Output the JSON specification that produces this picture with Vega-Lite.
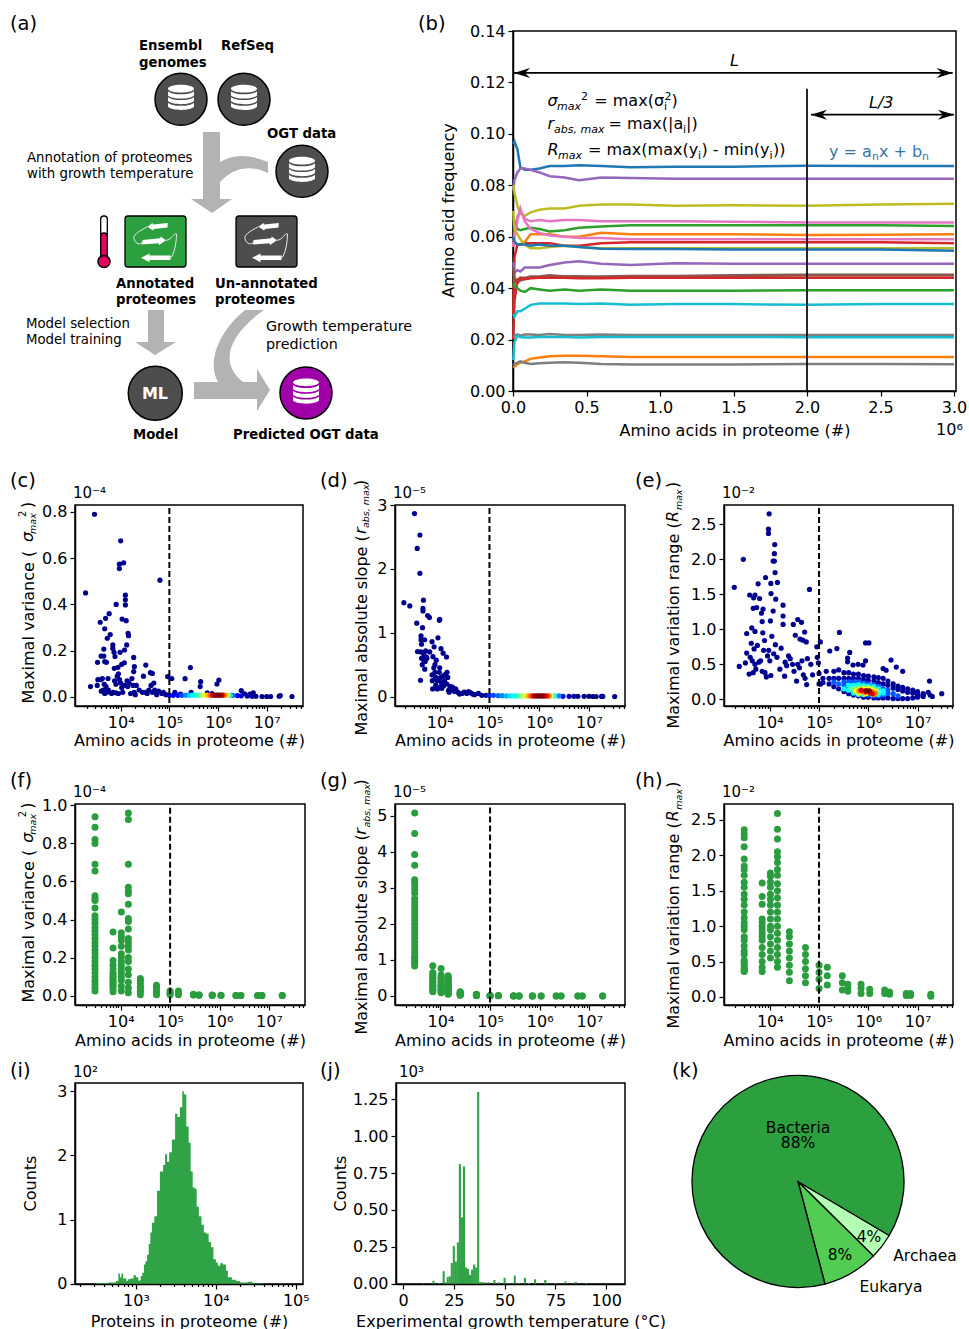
{"$schema":"https://vega.github.io/schema/vega-lite/v6.json","padding":0,"background":"white","config":{"font":"DejaVu Sans","axis":{"grid":false,"domainColor":"black","domainWidth":1.5,"tickColor":"black","tickWidth":1.2,"tickSize":5,"labelColor":"black","titleColor":"black","labelFontSize":16,"titleFontSize":16,"titleFontWeight":"normal","labelPadding":3,"labelOverlap":false,"labelFlush":false},"view":{"stroke":"black","strokeWidth":1.5},"legend":{"disable":true}},"datasets":{"bins":[{"x":3020,"v":0.94,"s":5.07,"r":2.36},{"x":3020,"v":0.885,"s":4.5,"r":2.3},{"x":3020,"v":0.82,"s":3.92,"r":2.25},{"x":3020,"v":0.8,"s":3.62,"r":2.12},{"x":3020,"v":0.69,"s":3.22,"r":1.95},{"x":3020,"v":0.655,"s":3.15,"r":1.85},{"x":3020,"v":0.525,"s":3.05,"r":1.8},{"x":3020,"v":0.51,"s":2.95,"r":1.72},{"x":3020,"v":0.5,"s":2.85,"r":1.62},{"x":3020,"v":0.46,"s":2.7,"r":1.55},{"x":3020,"v":0.42,"s":2.6,"r":1.45},{"x":3020,"v":0.4,"s":2.5,"r":1.38},{"x":3020,"v":0.38,"s":2.4,"r":1.3},{"x":3020,"v":0.36,"s":2.3,"r":1.2},{"x":3020,"v":0.34,"s":2.2,"r":1.12},{"x":3020,"v":0.32,"s":2.1,"r":1.05},{"x":3020,"v":0.3,"s":2,"r":1},{"x":3020,"v":0.28,"s":1.9,"r":0.95},{"x":3020,"v":0.26,"s":1.8,"r":0.85},{"x":3020,"v":0.24,"s":1.7,"r":0.8},{"x":3020,"v":0.22,"s":1.6,"r":0.72},{"x":3020,"v":0.2,"s":1.5,"r":0.65},{"x":3020,"v":0.18,"s":1.4,"r":0.6},{"x":3020,"v":0.16,"s":1.3,"r":0.52},{"x":3020,"v":0.14,"s":1.2,"r":0.5},{"x":3020,"v":0.12,"s":1.1,"r":0.47},{"x":3020,"v":0.1,"s":1.05,"r":0.44},{"x":3020,"v":0.08,"s":1,"r":0.41},{"x":3020,"v":0.06,"s":0.95,"r":0.38},{"x":3020,"v":0.04,"s":0.9,"r":0.37},{"x":3020,"v":0.025,"s":0.83,"r":0.36},{"x":7000,"v":0.335,"s":0.84,"r":1.61},{"x":7000,"v":0.25,"s":0.65,"r":1.42},{"x":7000,"v":0.185,"s":0.6,"r":1.31},{"x":7000,"v":0.16,"s":0.55,"r":1.1},{"x":7000,"v":0.14,"s":0.5,"r":1.05},{"x":7000,"v":0.12,"s":0.47,"r":1},{"x":7000,"v":0.11,"s":0.42,"r":0.95},{"x":7000,"v":0.1,"s":0.38,"r":0.9},{"x":7000,"v":0.09,"s":0.33,"r":0.85},{"x":7000,"v":0.08,"s":0.3,"r":0.8},{"x":7000,"v":0.07,"s":0.26,"r":0.7},{"x":7000,"v":0.06,"s":0.22,"r":0.6},{"x":7000,"v":0.05,"s":0.18,"r":0.5},{"x":7000,"v":0.035,"s":0.15,"r":0.42},{"x":7000,"v":0.02,"s":0.12,"r":0.36},{"x":10300,"v":0.44,"s":0.76,"r":1.75},{"x":10300,"v":0.33,"s":0.58,"r":1.7},{"x":10300,"v":0.31,"s":0.52,"r":1.62},{"x":10300,"v":0.29,"s":0.48,"r":1.55},{"x":10300,"v":0.26,"s":0.42,"r":1.45},{"x":10300,"v":0.22,"s":0.38,"r":1.38},{"x":10300,"v":0.2,"s":0.34,"r":1.3},{"x":10300,"v":0.18,"s":0.3,"r":1.2},{"x":10300,"v":0.16,"s":0.26,"r":1.1},{"x":10300,"v":0.14,"s":0.24,"r":1},{"x":10300,"v":0.12,"s":0.2,"r":0.95},{"x":10300,"v":0.1,"s":0.16,"r":0.85},{"x":10300,"v":0.08,"s":0.14,"r":0.75},{"x":10300,"v":0.05,"s":0.12,"r":0.65},{"x":10300,"v":0.025,"s":0.09,"r":0.55},{"x":14300,"v":0.96,"s":0.56,"r":2.59},{"x":14300,"v":0.925,"s":0.52,"r":2.37},{"x":14300,"v":0.69,"s":0.48,"r":2.23},{"x":14300,"v":0.57,"s":0.45,"r":2.05},{"x":14300,"v":0.55,"s":0.42,"r":1.98},{"x":14300,"v":0.535,"s":0.4,"r":1.9},{"x":14300,"v":0.48,"s":0.36,"r":1.8},{"x":14300,"v":0.405,"s":0.33,"r":1.72},{"x":14300,"v":0.39,"s":0.3,"r":1.6},{"x":14300,"v":0.35,"s":0.28,"r":1.5},{"x":14300,"v":0.3,"s":0.25,"r":1.4},{"x":14300,"v":0.28,"s":0.22,"r":1.3},{"x":14300,"v":0.26,"s":0.2,"r":1.2},{"x":14300,"v":0.24,"s":0.17,"r":1.1},{"x":14300,"v":0.2,"s":0.15,"r":1},{"x":14300,"v":0.18,"s":0.12,"r":0.9},{"x":14300,"v":0.14,"s":0.1,"r":0.8},{"x":14300,"v":0.11,"s":0.08,"r":0.7},{"x":14300,"v":0.07,"s":0.07,"r":0.6},{"x":14300,"v":0.04,"s":0.06,"r":0.5},{"x":14300,"v":0.015,"s":0.05,"r":0.42},{"x":25000,"v":0.09,"s":0.12,"r":0.92},{"x":25000,"v":0.08,"s":0.1,"r":0.85},{"x":25000,"v":0.065,"s":0.08,"r":0.75},{"x":25000,"v":0.05,"s":0.07,"r":0.65},{"x":25000,"v":0.04,"s":0.05,"r":0.55},{"x":25000,"v":0.03,"s":0.04,"r":0.45},{"x":25000,"v":0.02,"s":0.03,"r":0.35},{"x":25000,"v":0.005,"s":0.02,"r":0.23},{"x":53000,"v":0.055,"s":0.05,"r":0.7},{"x":53000,"v":0.045,"s":0.04,"r":0.6},{"x":53000,"v":0.03,"s":0.03,"r":0.5},{"x":53000,"v":0.02,"s":0.02,"r":0.4},{"x":53000,"v":0.01,"s":0.01,"r":0.3},{"x":53000,"v":0.005,"s":0.005,"r":0.2},{"x":100000,"v":0.025,"s":0.01,"r":0.45},{"x":100000,"v":0.015,"s":0.008,"r":0.35},{"x":100000,"v":0.01,"s":0.005,"r":0.25},{"x":100000,"v":0.005,"s":0.003,"r":0.12},{"x":147000,"v":0.025,"s":0.01,"r":0.42},{"x":147000,"v":0.015,"s":0.006,"r":0.3},{"x":147000,"v":0.005,"s":0.003,"r":0.17},{"x":297000,"v":0.008,"s":0.003,"r":0.3},{"x":297000,"v":0.005,"s":0.002,"r":0.2},{"x":297000,"v":0.003,"s":0.001,"r":0.1},{"x":385000,"v":0.004,"s":0.002,"r":0.18},{"x":385000,"v":0.003,"s":0.001,"r":0.13},{"x":385000,"v":0.002,"s":0.001,"r":0.08},{"x":712000,"v":0.003,"s":0.001,"r":0.18},{"x":712000,"v":0.002,"s":0.001,"r":0.12},{"x":712000,"v":0.001,"s":0.001,"r":0.05},{"x":1070000,"v":0.002,"s":0.001,"r":0.11},{"x":1070000,"v":0.001,"s":0.001,"r":0.05},{"x":2150000,"v":0.001,"s":0.001,"r":0.1},{"x":2150000,"v":0.001,"s":0.001,"r":0.05},{"x":2700000,"v":0.001,"s":0.001,"r":0.07},{"x":2700000,"v":0.001,"s":0.001,"r":0.04},{"x":5900000,"v":0.001,"s":0.001,"r":0.05},{"x":5900000,"v":0.001,"s":0.001,"r":0.02},{"x":7200000,"v":0.001,"s":0.001,"r":0.05},{"x":7200000,"v":0.001,"s":0.001,"r":0.02},{"x":18600000,"v":0.001,"s":0.001,"r":0.04},{"x":18600000,"v":0.001,"s":0.001,"r":0.01}]},"align":"each","spacing":0,"vconcat":[{"bounds":"flush","spacing":0,"hconcat":[{"width":75,"height":360,"view":{"stroke":null},"encoding":{"x":{"field":"x","type":"quantitative","axis":null,"scale":{"domain":[0,75],"nice":false,"zero":false}},"y":{"field":"y","type":"quantitative","axis":null,"scale":{"domain":[31,391],"nice":false,"zero":false,"reverse":true}}},"layer":[{"data":{"values":[{"x":0,"x2":75,"y":0,"y2":445}]},"mark":{"type":"rect","opacity":0},"encoding":{"x2":{"field":"x2"},"y2":{"field":"y2"}}},{"data":{"values":[{"x":10,"y":30,"t":"(a)"},{"x":418,"y":30,"t":"(b)"}]},"mark":{"type":"text","align":"left","baseline":"alphabetic","fontSize":19.5},"encoding":{"text":{"field":"t"}}}]},{"width":438,"height":360,"view":{"stroke":null},"encoding":{"x":{"field":"x","type":"quantitative","axis":null,"scale":{"domain":[75,513],"nice":false,"zero":false}},"y":{"field":"y","type":"quantitative","axis":null,"scale":{"domain":[31,391],"nice":false,"zero":false,"reverse":true}}},"layer":[{"data":{"values":[{"x":0,"y":0}]},"mark":{"type":"point","filled":true,"opacity":1,"color":"#b3b3b3","size":4,"shape":"M203,132 H220 V162 Q240,150 268,162 V173 Q240,160 220,182 V199 H232 L212,213 L191,199 H203 Z M148,310 H164 V342 H176 L155,355 L135,342 H148 Z M194,382 H218 C208,365 215,335 245,310 H264 C235,330 215,360 243,382 H257 V369 L270,390 L257,411 V399 H194 Z"}},{"data":{"values":[{"x":125,"y":216,"x2":186,"y2":267,"c":"#2ca03f"},{"x":236,"y":216,"x2":297,"y2":267,"c":"#4d4d4d"},{"x":100.7,"y":216,"x2":107.3,"y2":258,"c":"white"},{"x":100.7,"y":233,"x2":107.3,"y2":258,"c":"#e6005c"}]},"mark":{"type":"rect","stroke":"black","strokeWidth":1.3,"cornerRadius":3},"encoding":{"x2":{"field":"x2"},"y2":{"field":"y2"},"color":{"field":"c","type":"nominal","scale":null}}},{"data":{"values":[{"x":104,"y":261.5,"c":"#e6005c","s":144},{"x":181,"y":99.3,"c":"#4d4d4d","s":2704},{"x":244,"y":99.3,"c":"#4d4d4d","s":2704},{"x":302,"y":171.3,"c":"#4d4d4d","s":2704},{"x":155.3,"y":393.3,"c":"#4d4d4d","s":2916},{"x":306,"y":393,"c":"#a000a8","s":2704}]},"mark":{"type":"circle","opacity":1,"stroke":"black","strokeWidth":1.5},"encoding":{"color":{"field":"c","type":"nominal","scale":null},"size":{"field":"s","type":"quantitative","scale":null}}},{"data":{"values":[{"x":181,"y":99.3},{"x":244,"y":99.3},{"x":302,"y":171.3},{"x":306,"y":393}]},"mark":{"type":"point","filled":true,"opacity":1,"color":"white","size":676,"shape":"M-1,-0.82 A1,0.3 0 1,1 1,-0.82 A1,0.3 0 1,1 -1,-0.82 Z M-1,-0.62 C-0.7,-0.3 0.7,-0.3 1,-0.62 L1,-0.3 C0.7,0.02 -0.7,0.02 -1,-0.3 Z M-1,-0.18 C-0.7,0.14 0.7,0.14 1,-0.18 L1,0.14 C0.7,0.46 -0.7,0.46 -1,0.14 Z M-1,0.26 C-0.7,0.58 0.7,0.58 1,0.26 L1,0.58 C0.7,0.9 -0.7,0.9 -1,0.58 Z"}},{"data":{"values":[{"x":155.5,"y":241.5},{"x":266.5,"y":241.5}]},"mark":{"type":"point","filled":true,"opacity":1,"color":"white","size":3600,"shape":"M-0.27,-0.49 L-0.1,-0.62 L-0.08,-0.57 L0.41,-0.62 L0.4,-0.47 L-0.05,-0.42 L-0.08,-0.37 Z M0.35,-0.04 L0.17,-0.17 L0.16,-0.11 L-0.43,-0.05 L-0.46,0.1 L0.1,0.06 L0.12,0.12 Z M-0.48,0.54 L-0.2,0.4 L-0.2,0.47 L0.5,0.47 L0.5,0.62 L-0.2,0.62 L-0.2,0.69 Z"}},{"data":{"values":[{"x":155.5,"y":241.5},{"x":266.5,"y":241.5}]},"mark":{"type":"point","filled":false,"opacity":1,"color":"#e8e8e8","strokeWidth":1,"size":3600,"shape":"M-0.27,-0.49 C-0.55,-0.35 -0.8,-0.2 -0.7,-0.05 C-0.65,0.1 -0.5,0.1 -0.45,0.03 M0.35,-0.04 C0.55,-0.05 0.6,-0.3 0.7,-0.25 C0.7,0 0.65,0.3 0.55,0.5 L0.45,0.55"}},{"data":{"values":[{"x":139,"y":50,"t":"Ensembl"},{"x":139,"y":67,"t":"genomes"},{"x":221,"y":50,"t":"RefSeq"},{"x":267,"y":138,"t":"OGT data"},{"x":116,"y":288,"t":"Annotated"},{"x":116,"y":304,"t":"proteomes"},{"x":215,"y":288,"t":"Un-annotated"},{"x":215,"y":304,"t":"proteomes"},{"x":133,"y":439,"t":"Model"},{"x":233,"y":439,"t":"Predicted OGT data"}]},"mark":{"type":"text","align":"left","baseline":"alphabetic","fontWeight":"bold","fontSize":13.25},"encoding":{"text":{"field":"t"}}},{"data":{"values":[{"x":27,"y":162,"t":"Annotation of proteomes","s":13.3},{"x":27,"y":178,"t":"with growth temperature","s":13.3},{"x":26,"y":328,"t":"Model selection","s":13.3},{"x":26,"y":344,"t":"Model training","s":13.3},{"x":266,"y":331,"t":"Growth temperature","s":14.3},{"x":266,"y":349,"t":"prediction","s":14.3}]},"mark":{"type":"text","align":"left","baseline":"alphabetic"},"encoding":{"text":{"field":"t"},"size":{"field":"s","type":"quantitative","scale":null}}},{"data":{"values":[{"x":155,"y":399,"t":"ML"}]},"mark":{"type":"text","align":"center","baseline":"alphabetic","fontWeight":"bold","fontSize":16,"color":"white"},"encoding":{"text":{"field":"t"}}}]},{"width":443,"height":360,"encoding":{"x":{"field":"x","type":"quantitative","title":"Amino acids in proteome (#)","scale":{"domain":[0,3.0136],"nice":false,"zero":false},"axis":{"values":[0,0.5,1,1.5,2,2.5,3],"format":".1f","titleY":44,"titleBaseline":"alphabetic"}},"y":{"field":"y","type":"quantitative","title":"Amino acid frequency","scale":{"domain":[0,0.14],"nice":false,"zero":false},"axis":{"values":[0,0.02,0.04,0.06,0.08,0.1,0.12,0.14],"format":".2f","titleX":-65,"titleY":179,"titleBaseline":"middle"}}},"layer":[{"data":{"values":[{"x":0.002,"a1":0.096,"a2":0.078,"a3":0.08,"a4":0.056,"a5":0.067,"a6":0.056,"a7":0.056,"a8":0.03,"a9":0.07,"a10":0.06,"a11":0.05,"a12":0.04,"a13":0.048,"a14":0.02,"a15":0.042,"a16":0.03,"a17":0.021,"a18":0.012,"a19":0.009,"a20":0.01},{"x":0.01,"a1":0.097,"a2":0.082,"a3":0.077,"a4":0.062,"a5":0.066,"a6":0.058,"a7":0.06,"a8":0.052,"a9":0.063,"a10":0.058,"a11":0.046,"a12":0.043,"a13":0.044,"a14":0.035,"a15":0.041,"a16":0.029,"a17":0.0215,"a18":0.019,"a19":0.0095,"a20":0.0105},{"x":0.03,"a1":0.094,"a2":0.085,"a3":0.072,"a4":0.068,"a5":0.063,"a6":0.057,"a7":0.066,"a8":0.057,"a9":0.061,"a10":0.057,"a11":0.047,"a12":0.042,"a13":0.043,"a14":0.043,"a15":0.04,"a16":0.031,"a17":0.022,"a18":0.0215,"a19":0.0105,"a20":0.011},{"x":0.05,"a1":0.087,"a2":0.0865,"a3":0.069,"a4":0.07,"a5":0.0625,"a6":0.057,"a7":0.071,"a8":0.057,"a9":0.059,"a10":0.057,"a11":0.0465,"a12":0.043,"a13":0.044,"a14":0.044,"a15":0.039,"a16":0.031,"a17":0.0215,"a18":0.021,"a19":0.011,"a20":0.0115},{"x":0.08,"a1":0.086,"a2":0.0865,"a3":0.068,"a4":0.067,"a5":0.063,"a6":0.058,"a7":0.066,"a8":0.0575,"a9":0.057,"a10":0.057,"a11":0.048,"a12":0.0435,"a13":0.044,"a14":0.0435,"a15":0.0385,"a16":0.032,"a17":0.022,"a18":0.0208,"a19":0.0115,"a20":0.011},{"x":0.12,"a1":0.086,"a2":0.086,"a3":0.0695,"a4":0.066,"a5":0.0635,"a6":0.061,"a7":0.063,"a8":0.0575,"a9":0.0555,"a10":0.0565,"a11":0.048,"a12":0.044,"a13":0.0445,"a14":0.0438,"a15":0.04,"a16":0.0335,"a17":0.022,"a18":0.0208,"a19":0.0125,"a20":0.0105},{"x":0.18,"a1":0.0865,"a2":0.085,"a3":0.0705,"a4":0.0665,"a5":0.063,"a6":0.061,"a7":0.0615,"a8":0.0575,"a9":0.0555,"a10":0.057,"a11":0.048,"a12":0.044,"a13":0.0445,"a14":0.044,"a15":0.0395,"a16":0.034,"a17":0.0218,"a18":0.021,"a19":0.013,"a20":0.0108},{"x":0.25,"a1":0.0875,"a2":0.0835,"a3":0.071,"a4":0.066,"a5":0.062,"a6":0.061,"a7":0.0605,"a8":0.0575,"a9":0.056,"a10":0.0565,"a11":0.049,"a12":0.0445,"a13":0.045,"a14":0.044,"a15":0.039,"a16":0.034,"a17":0.0222,"a18":0.021,"a19":0.0135,"a20":0.011},{"x":0.35,"a1":0.0875,"a2":0.083,"a3":0.071,"a4":0.0665,"a5":0.0625,"a6":0.06,"a7":0.06,"a8":0.0565,"a9":0.0565,"a10":0.0565,"a11":0.05,"a12":0.0445,"a13":0.0445,"a14":0.044,"a15":0.0395,"a16":0.034,"a17":0.0218,"a18":0.021,"a19":0.0137,"a20":0.0112},{"x":0.45,"a1":0.0878,"a2":0.082,"a3":0.072,"a4":0.0665,"a5":0.0635,"a6":0.06,"a7":0.0595,"a8":0.0565,"a9":0.056,"a10":0.056,"a11":0.0505,"a12":0.0445,"a13":0.0445,"a14":0.0438,"a15":0.039,"a16":0.0338,"a17":0.0218,"a18":0.0208,"a19":0.0137,"a20":0.011},{"x":0.6,"a1":0.0875,"a2":0.083,"a3":0.0725,"a4":0.066,"a5":0.064,"a6":0.0615,"a7":0.0595,"a8":0.0575,"a9":0.0555,"a10":0.0553,"a11":0.0495,"a12":0.044,"a13":0.0445,"a14":0.0438,"a15":0.0395,"a16":0.034,"a17":0.022,"a18":0.021,"a19":0.0135,"a20":0.0105},{"x":0.8,"a1":0.087,"a2":0.0828,"a3":0.0725,"a4":0.066,"a5":0.0645,"a6":0.061,"a7":0.059,"a8":0.0578,"a9":0.0555,"a10":0.0552,"a11":0.049,"a12":0.0442,"a13":0.0447,"a14":0.044,"a15":0.039,"a16":0.0335,"a17":0.0218,"a18":0.021,"a19":0.0132,"a20":0.0103},{"x":1.1,"a1":0.0872,"a2":0.0825,"a3":0.072,"a4":0.066,"a5":0.0645,"a6":0.061,"a7":0.059,"a8":0.0578,"a9":0.0555,"a10":0.0552,"a11":0.0497,"a12":0.0445,"a13":0.0447,"a14":0.044,"a15":0.039,"a16":0.0338,"a17":0.0218,"a18":0.021,"a19":0.0132,"a20":0.0103},{"x":1.5,"a1":0.0872,"a2":0.0825,"a3":0.0722,"a4":0.0658,"a5":0.0645,"a6":0.061,"a7":0.059,"a8":0.0578,"a9":0.0555,"a10":0.055,"a11":0.0495,"a12":0.0447,"a13":0.045,"a14":0.044,"a15":0.039,"a16":0.0338,"a17":0.0218,"a18":0.021,"a19":0.0132,"a20":0.0103},{"x":2,"a1":0.0876,"a2":0.0825,"a3":0.072,"a4":0.0655,"a5":0.0645,"a6":0.0607,"a7":0.059,"a8":0.0578,"a9":0.0555,"a10":0.055,"a11":0.0495,"a12":0.045,"a13":0.0452,"a14":0.044,"a15":0.0392,"a16":0.0335,"a17":0.0218,"a18":0.0209,"a19":0.0132,"a20":0.0105},{"x":2.5,"a1":0.0875,"a2":0.0825,"a3":0.0725,"a4":0.0655,"a5":0.0645,"a6":0.0608,"a7":0.059,"a8":0.0578,"a9":0.0555,"a10":0.055,"a11":0.0495,"a12":0.045,"a13":0.0452,"a14":0.044,"a15":0.0392,"a16":0.0338,"a17":0.0218,"a18":0.0209,"a19":0.0132,"a20":0.0105},{"x":3,"a1":0.0875,"a2":0.0825,"a3":0.0728,"a4":0.0655,"a5":0.0642,"a6":0.061,"a7":0.059,"a8":0.0575,"a9":0.0555,"a10":0.0545,"a11":0.0495,"a12":0.045,"a13":0.0452,"a14":0.044,"a15":0.0392,"a16":0.0338,"a17":0.0218,"a18":0.0209,"a19":0.0132,"a20":0.0104}]},"transform":[{"fold":["a1","a2","a3","a4","a5","a6","a7","a8","a9","a10","a11","a12","a13","a14","a15","a16","a17","a18","a19","a20"],"as":["aa","y"]}],"mark":{"type":"line","strokeWidth":2.5},"encoding":{"color":{"field":"aa","type":"nominal","scale":{"domain":["a1","a2","a3","a4","a5","a6","a7","a8","a9","a10","a11","a12","a13","a14","a15","a16","a17","a18","a19","a20"],"range":["#1f77b4","#9467bd","#bcbd22","#e377c2","#2ca02c","#ff7f0e","#e377c2","#d62728","#bcbd22","#1f77b4","#9467bd","#8c564b","#8c564b","#d62728","#2ca02c","#17becf","#7f7f7f","#17becf","#ff7f0e","#7f7f7f"]}}}},{"data":{"values":[{"x":0.007,"x2":2.991,"y":0.1237,"y2":0.1237},{"x":2.027,"x2":3,"y":0.10745,"y2":0.10745},{"x":2,"x2":2,"y":0,"y2":0.1175}]},"mark":{"type":"rule","color":"black","strokeWidth":1.7},"encoding":{"x2":{"field":"x2"},"y2":{"field":"y2"}}},{"data":{"values":[{"x":0.007,"y":0.1237},{"x":2.027,"y":0.10745}]},"mark":{"type":"point","filled":true,"opacity":1,"color":"black","size":4,"shape":"M0,0 L16,-5 L11,0 L16,5 Z"}},{"data":{"values":[{"x":2.991,"y":0.1237},{"x":3,"y":0.10745}]},"mark":{"type":"point","filled":true,"opacity":1,"color":"black","size":4,"shape":"M0,0 L-16,-5 L-11,0 L-16,5 Z"}},{"data":{"values":[{"x":0.2347,"y":0.1108,"t":"σ","s":16},{"x":0.299,"y":0.1093,"t":"max","s":11},{"x":0.2347,"y":0.1019,"t":"r","s":16},{"x":0.279,"y":0.1003,"t":"abs, max","s":11},{"x":0.2347,"y":0.0918,"t":"R","s":16},{"x":0.306,"y":0.0902,"t":"max","s":11},{"x":1.476,"y":0.1264,"t":"L","s":16},{"x":2.422,"y":0.1101,"t":"L/3","s":16}]},"mark":{"type":"text","align":"left","baseline":"alphabetic","fontStyle":"italic"},"encoding":{"text":{"field":"t"},"size":{"field":"s","type":"quantitative","scale":null}}},{"data":{"values":[{"x":0.4626,"y":0.1132,"t":"2","s":11},{"x":0.553,"y":0.1108,"t":"= max(σ","s":16},{"x":1.027,"y":0.1093,"t":"i","s":11},{"x":1.031,"y":0.1132,"t":"2","s":11},{"x":1.078,"y":0.1108,"t":")","s":16},{"x":0.649,"y":0.1019,"t":"= max(|a","s":16},{"x":1.156,"y":0.1003,"t":"i","s":11},{"x":1.177,"y":0.1019,"t":"|)","s":16},{"x":0.51,"y":0.0918,"t":"= max(max(y","s":16},{"x":1.259,"y":0.0902,"t":"i","s":11},{"x":1.282,"y":0.0918,"t":") - min(y","s":16},{"x":1.745,"y":0.0902,"t":"i","s":11},{"x":1.769,"y":0.0918,"t":"))","s":16}]},"mark":{"type":"text","align":"left","baseline":"alphabetic"},"encoding":{"text":{"field":"t"},"size":{"field":"s","type":"quantitative","scale":null}}},{"data":{"values":[{"x":2.15,"y":0.091,"t":"y = a","s":16},{"x":2.442,"y":0.0898,"t":"n","s":11},{"x":2.49,"y":0.091,"t":"x + b","s":16},{"x":2.782,"y":0.0898,"t":"n","s":11}]},"mark":{"type":"text","align":"left","baseline":"alphabetic","color":"#3575a6"},"encoding":{"text":{"field":"t"},"size":{"field":"s","type":"quantitative","scale":null}}},{"data":{"values":[{"x":3.06,"y":-0.0171,"t":"10⁶"}]},"mark":{"type":"text","align":"right","baseline":"alphabetic","fontSize":16},"encoding":{"text":{"field":"t"}}}]}]},{"bounds":"flush","spacing":0,"hconcat":[{"width":75,"height":201,"view":{"stroke":null},"encoding":{"x":{"field":"x","type":"quantitative","axis":null,"scale":{"domain":[0,75],"nice":false,"zero":false}},"y":{"field":"y","type":"quantitative","axis":null,"scale":{"domain":[505,706],"nice":false,"zero":false,"reverse":true}}},"layer":[{"data":{"values":[{"x":0,"x2":75,"y":445,"y2":760}]},"mark":{"type":"rect","opacity":0},"encoding":{"x2":{"field":"x2"},"y2":{"field":"y2"}}},{"data":{"values":[{"x":10,"y":487,"t":"(c)"},{"x":320,"y":487,"t":"(d)"},{"x":635,"y":487,"t":"(e)"}]},"mark":{"type":"text","align":"left","baseline":"alphabetic","fontSize":19.5},"encoding":{"text":{"field":"t"}}}]},{"width":228,"height":201,"encoding":{"x":{"field":"x","type":"quantitative","title":"Amino acids in proteome (#)","scale":{"type":"log","domain":[1153,55600000],"nice":false},"axis":{"tickCount":50,"labelExpr":"datum.value==10000?'10⁴':datum.value==100000?'10⁵':datum.value==1000000?'10⁶':datum.value==10000000?'10⁷':''","tickSize":{"condition":{"test":"datum.value==10000||datum.value==100000||datum.value==1000000||datum.value==10000000","value":5},"value":2.5},"titleY":39,"titleBaseline":"alphabetic"}},"y":{"field":"y","type":"quantitative","title":"Maximal variance (","scale":{"domain":[-0.039,0.83],"nice":false,"zero":false},"axis":{"values":[0,0.2,0.4,0.6,0.8],"format":".1f","titleX":-47,"titleY":198,"titleAlign":"left","titleAnchor":null,"titleBaseline":"middle"}}},"layer":[{"data":{"values":[{"x":2900,"y":0.79},{"x":1900,"y":0.45},{"x":10000,"y":0.675},{"x":11500,"y":0.58},{"x":9400,"y":0.574},{"x":9400,"y":0.555},{"x":64000,"y":0.505},{"x":12500,"y":0.44},{"x":12500,"y":0.42},{"x":12500,"y":0.398},{"x":8100,"y":0.4},{"x":10700,"y":0.337},{"x":13000,"y":0.33},{"x":3800,"y":0.323},{"x":5800,"y":0.36},{"x":4900,"y":0.34},{"x":4700,"y":0.295},{"x":6100,"y":0.27},{"x":5300,"y":0.254},{"x":14200,"y":0.275},{"x":14500,"y":0.265},{"x":13300,"y":0.225},{"x":12000,"y":0.203},{"x":9700,"y":0.193},{"x":6900,"y":0.225},{"x":6900,"y":0.21},{"x":7300,"y":0.193},{"x":4500,"y":0.207},{"x":7650,"y":0.175},{"x":18500,"y":0.171},{"x":3950,"y":0.177},{"x":4500,"y":0.177},{"x":3350,"y":0.15},{"x":4700,"y":0.153},{"x":5100,"y":0.15},{"x":32800,"y":0.138},{"x":19100,"y":0.131},{"x":11900,"y":0.148},{"x":10500,"y":0.141},{"x":8800,"y":0.128},{"x":7400,"y":0.124},{"x":18500,"y":0.11},{"x":40800,"y":0.105},{"x":44700,"y":0.102},{"x":29400,"y":0.09},{"x":92000,"y":0.088},{"x":112000,"y":0.08},{"x":270000,"y":0.127},{"x":210000,"y":0.079},{"x":440000,"y":0.066},{"x":1040000,"y":0.073},{"x":950000,"y":0.056},{"x":430000,"y":0.045},{"x":2400,"y":0.045},{"x":3400,"y":0.075},{"x":3300,"y":0.05},{"x":3900,"y":0.075},{"x":4200,"y":0.08},{"x":4400,"y":0.03},{"x":4600,"y":0.055},{"x":5000,"y":0.045},{"x":5200,"y":0.02},{"x":5500,"y":0.08},{"x":4000,"y":0.025},{"x":4700,"y":0.015},{"x":5600,"y":0.03},{"x":6500,"y":0.015},{"x":7000,"y":0.02},{"x":7500,"y":0.07},{"x":8000,"y":0.055},{"x":8500,"y":0.09},{"x":9000,"y":0.1},{"x":9500,"y":0.075},{"x":10000,"y":0.06},{"x":10500,"y":0.04},{"x":11000,"y":0.02},{"x":12000,"y":0.05},{"x":13500,"y":0.07},{"x":14000,"y":0.045},{"x":15000,"y":0.06},{"x":17000,"y":0.08},{"x":18000,"y":0.05},{"x":19000,"y":0.02},{"x":20000,"y":0.01},{"x":21000,"y":0.05},{"x":24000,"y":0.03},{"x":28000,"y":0.02},{"x":32000,"y":0.02},{"x":35000,"y":0.015},{"x":38000,"y":0.03},{"x":42000,"y":0.05},{"x":45000,"y":0.02},{"x":48000,"y":0.06},{"x":50000,"y":0.03},{"x":55000,"y":0.01},{"x":60000,"y":0.025},{"x":70000,"y":0.015},{"x":75000,"y":0.02},{"x":9000,"y":0.015},{"x":8000,"y":0.018},{"x":16000,"y":0.015},{"x":85000,"y":0.01},{"x":3000000,"y":0.028},{"x":3500000,"y":0.014},{"x":4500000,"y":0.012},{"x":5300000,"y":0.018},{"x":19000000,"y":0.006},{"x":33000000,"y":0.002},{"x":18000000,"y":0.003},{"x":12000000,"y":0.002},{"x":130000,"y":0.02},{"x":170000,"y":0.012},{"x":280000,"y":0.02},{"x":600000,"y":0.018},{"x":750000,"y":0.015}]},"mark":{"type":"circle","size":27,"opacity":1,"color":"#00008f"}},{"data":{"values":[{"x":10000000,"y":0.002,"d":0},{"x":8000000,"y":0.002,"d":0.01},{"x":6000000,"y":0.003,"d":0.02},{"x":5000000,"y":0.003,"d":0.03},{"x":4000000,"y":0.004,"d":0.04},{"x":3000000,"y":0.005,"d":0.06},{"x":100000,"y":0.007,"d":0.08},{"x":120000,"y":0.007,"d":0.1},{"x":2500000,"y":0.006,"d":0.1},{"x":150000,"y":0.007,"d":0.11},{"x":180000,"y":0.007,"d":0.14},{"x":2000000,"y":0.007,"d":0.15},{"x":220000,"y":0.008,"d":0.2},{"x":260000,"y":0.008,"d":0.28},{"x":1800000,"y":0.008,"d":0.3},{"x":300000,"y":0.008,"d":0.34},{"x":350000,"y":0.008,"d":0.4},{"x":400000,"y":0.008,"d":0.46},{"x":460000,"y":0.008,"d":0.55},{"x":1600000,"y":0.008,"d":0.6},{"x":520000,"y":0.008,"d":0.62},{"x":600000,"y":0.008,"d":0.72},{"x":1450000,"y":0.008,"d":0.75},{"x":680000,"y":0.008,"d":0.82},{"x":1300000,"y":0.008,"d":0.85},{"x":760000,"y":0.008,"d":0.9},{"x":1200000,"y":0.008,"d":0.93},{"x":840000,"y":0.008,"d":0.96},{"x":1100000,"y":0.008,"d":0.98},{"x":920000,"y":0.008,"d":1},{"x":1000000,"y":0.008,"d":1}]},"mark":{"type":"circle","size":27,"opacity":1},"encoding":{"color":{"field":"d","type":"quantitative","scale":{"domain":[0,0.11,0.35,0.65,0.89,1],"range":["#00007f","#0000ff","#00ffff","#ffff00","#ff0000","#7f0000"]}}}},{"data":{"values":[{"x":100000,"y":0.817,"y2":-0.039}]},"mark":{"type":"rule","color":"black","strokeWidth":2,"strokeDash":[6,3]},"encoding":{"y2":{"field":"y2"}}},{"data":{"values":[{"x":125,"y":0.67,"t":"σ","s":16},{"x":158,"y":0.705,"t":"max","s":9.5}]},"mark":{"type":"text","angle":270,"fontStyle":"italic","align":"left","baseline":"middle"},"encoding":{"text":{"field":"t"},"size":{"field":"s","type":"quantitative","scale":null}}},{"data":{"values":[{"x":99,"y":0.778,"t":"2","s":10},{"x":125,"y":0.817,"t":")","s":16}]},"mark":{"type":"text","angle":270,"align":"left","baseline":"middle"},"encoding":{"text":{"field":"t"},"size":{"field":"s","type":"quantitative","scale":null}}},{"data":{"values":[{"x":1153,"y":0.83,"t":"10⁻⁴"}]},"mark":{"type":"text","align":"left","baseline":"alphabetic","dx":-2,"dy":-7,"fontSize":15},"encoding":{"text":{"field":"t"}}}]},{"width":92,"height":201,"view":{"stroke":null},"data":{"values":[{"a":0}]},"mark":{"type":"rule","opacity":0},"encoding":{}},{"width":230,"height":201,"encoding":{"x":{"field":"x","type":"quantitative","title":"Amino acids in proteome (#)","scale":{"type":"log","domain":[1259,53200000],"nice":false},"axis":{"tickCount":50,"labelExpr":"datum.value==10000?'10⁴':datum.value==100000?'10⁵':datum.value==1000000?'10⁶':datum.value==10000000?'10⁷':''","tickSize":{"condition":{"test":"datum.value==10000||datum.value==100000||datum.value==1000000||datum.value==10000000","value":5},"value":2.5},"titleY":39,"titleBaseline":"alphabetic"}},"y":{"field":"y","type":"quantitative","title":"Maximal absolute slope (","scale":{"domain":[-0.147,3],"nice":false,"zero":false},"axis":{"values":[0,1,2,3],"format":"d","titleX":-34,"titleY":230,"titleAlign":"left","titleAnchor":null,"titleBaseline":"middle"}}},"layer":[{"data":{"values":[{"x":3100,"y":2.865},{"x":3990,"y":2.53},{"x":3520,"y":2.32},{"x":3990,"y":1.93},{"x":1900,"y":1.47},{"x":2500,"y":1.42},{"x":4700,"y":1.51},{"x":4600,"y":1.38},{"x":4600,"y":1.34},{"x":5700,"y":1.27},{"x":6200,"y":1.24},{"x":10000,"y":1.21},{"x":9800,"y":1.195},{"x":3450,"y":1.15},{"x":4500,"y":1.08},{"x":4200,"y":0.95},{"x":4950,"y":0.89},{"x":9200,"y":0.92},{"x":7000,"y":0.86},{"x":7700,"y":0.78},{"x":10600,"y":0.75},{"x":11700,"y":0.68},{"x":13700,"y":0.62},{"x":4200,"y":0.89},{"x":3570,"y":0.705},{"x":4180,"y":0.7},{"x":5200,"y":0.715},{"x":6300,"y":0.7},{"x":4300,"y":0.6},{"x":5500,"y":0.6},{"x":7300,"y":0.625},{"x":8500,"y":0.57},{"x":4450,"y":0.5},{"x":5000,"y":0.43},{"x":4100,"y":0.255},{"x":4300,"y":0.82},{"x":4800,"y":0.65},{"x":5100,"y":0.55},{"x":4700,"y":0.58},{"x":5400,"y":0.62},{"x":7000,"y":0.34},{"x":7100,"y":0.25},{"x":7200,"y":0.12},{"x":7600,"y":0.45},{"x":8000,"y":0.5},{"x":8000,"y":0.38},{"x":8300,"y":0.3},{"x":8300,"y":0.18},{"x":9000,"y":0.12},{"x":9400,"y":0.28},{"x":9800,"y":0.38},{"x":10000,"y":0.45},{"x":10500,"y":0.3},{"x":10800,"y":0.22},{"x":11000,"y":0.13},{"x":12000,"y":0.33},{"x":12500,"y":0.25},{"x":13000,"y":0.35},{"x":13800,"y":0.2},{"x":14000,"y":0.38},{"x":14500,"y":0.3},{"x":15000,"y":0.1},{"x":15500,"y":0.07},{"x":16000,"y":0.16},{"x":17000,"y":0.13},{"x":18000,"y":0.15},{"x":19000,"y":0.1},{"x":20000,"y":0.08},{"x":21000,"y":0.12},{"x":23000,"y":0.07},{"x":25000,"y":0.04},{"x":28000,"y":0.05},{"x":31000,"y":0.07},{"x":35000,"y":0.05},{"x":38000,"y":0.08},{"x":42000,"y":0.06},{"x":46000,"y":0.04},{"x":50000,"y":0.03},{"x":60000,"y":0.05},{"x":70000,"y":0.02},{"x":85000,"y":0.02},{"x":10000,"y":0.15},{"x":12000,"y":0.17},{"x":9000,"y":0.25},{"x":12000000,"y":0.002},{"x":14000000,"y":0.002},{"x":18000000,"y":0.003},{"x":19000000,"y":0.003},{"x":33000000,"y":0.001}]},"mark":{"type":"circle","size":27,"opacity":1,"color":"#00008f"}},{"data":{"values":[{"x":10000000,"y":0.005,"d":0},{"x":8000000,"y":0.005,"d":0.01},{"x":6000000,"y":0.005,"d":0.02},{"x":5000000,"y":0.005,"d":0.03},{"x":4000000,"y":0.005,"d":0.05},{"x":3000000,"y":0.005,"d":0.1},{"x":100000,"y":0.02,"d":0.12},{"x":120000,"y":0.02,"d":0.14},{"x":150000,"y":0.015,"d":0.17},{"x":180000,"y":0.015,"d":0.2},{"x":2500000,"y":0.01,"d":0.2},{"x":220000,"y":0.01,"d":0.25},{"x":260000,"y":0.01,"d":0.3},{"x":2000000,"y":0.01,"d":0.34},{"x":300000,"y":0.01,"d":0.36},{"x":350000,"y":0.01,"d":0.42},{"x":400000,"y":0.01,"d":0.48},{"x":460000,"y":0.01,"d":0.55},{"x":1800000,"y":0.01,"d":0.6},{"x":520000,"y":0.01,"d":0.62},{"x":600000,"y":0.01,"d":0.75},{"x":1600000,"y":0.01,"d":0.8},{"x":680000,"y":0.01,"d":0.85},{"x":1450000,"y":0.01,"d":0.88},{"x":760000,"y":0.01,"d":0.92},{"x":1300000,"y":0.01,"d":0.94},{"x":840000,"y":0.01,"d":0.97},{"x":1200000,"y":0.01,"d":0.97},{"x":920000,"y":0.01,"d":1},{"x":1000000,"y":0.01,"d":1},{"x":1100000,"y":0.01,"d":1}]},"mark":{"type":"circle","size":27,"opacity":1},"encoding":{"color":{"field":"d","type":"quantitative","scale":{"domain":[0,0.11,0.35,0.65,0.89,1],"range":["#00007f","#0000ff","#00ffff","#ffff00","#ff0000","#7f0000"]}}}},{"data":{"values":[{"x":100000,"y":2.953,"y2":-0.147}]},"mark":{"type":"rule","color":"black","strokeWidth":2,"strokeDash":[6,3]},"encoding":{"y2":{"field":"y2"}}},{"data":{"values":[{"x":256,"y":2.546,"t":"r","s":16},{"x":323,"y":2.64,"t":"abs, max","s":9.5}]},"mark":{"type":"text","angle":270,"fontStyle":"italic","align":"left","baseline":"middle"},"encoding":{"text":{"field":"t"},"size":{"field":"s","type":"quantitative","scale":null}}},{"data":{"values":[{"x":256,"y":3.297,"t":")","s":16}]},"mark":{"type":"text","angle":270,"align":"left","baseline":"middle"},"encoding":{"text":{"field":"t"},"size":{"field":"s","type":"quantitative","scale":null}}},{"data":{"values":[{"x":1259,"y":3,"t":"10⁻⁵"}]},"mark":{"type":"text","align":"left","baseline":"alphabetic","dx":-2,"dy":-7,"fontSize":15},"encoding":{"text":{"field":"t"}}}]},{"width":99,"height":201,"view":{"stroke":null},"data":{"values":[{"a":0}]},"mark":{"type":"rule","opacity":0},"encoding":{}},{"width":229,"height":201,"encoding":{"x":{"field":"x","type":"quantitative","title":"Amino acids in proteome (#)","scale":{"type":"log","domain":[1175,52500000],"nice":false},"axis":{"tickCount":50,"labelExpr":"datum.value==10000?'10⁴':datum.value==100000?'10⁵':datum.value==1000000?'10⁶':datum.value==10000000?'10⁷':''","tickSize":{"condition":{"test":"datum.value==10000||datum.value==100000||datum.value==1000000||datum.value==10000000","value":5},"value":2.5},"titleY":39,"titleBaseline":"alphabetic"}},"y":{"field":"y","type":"quantitative","title":"Maximal variation range (","scale":{"domain":[-0.096,2.776],"nice":false,"zero":false},"axis":{"values":[0,0.5,1,1.5,2,2.5],"format":".1f","titleX":-51,"titleY":223,"titleAlign":"left","titleAnchor":null,"titleBaseline":"middle"}}},"layer":[{"data":{"values":[{"x":9700,"y":2.65},{"x":9400,"y":2.43},{"x":9400,"y":2.37},{"x":12600,"y":2.21},{"x":12400,"y":2.08},{"x":11700,"y":1.975},{"x":12400,"y":1.975},{"x":2900,"y":2},{"x":1900,"y":1.6},{"x":12800,"y":1.81},{"x":8200,"y":1.74},{"x":5800,"y":1.65},{"x":10500,"y":1.655},{"x":14300,"y":1.67},{"x":64000,"y":1.57},{"x":10600,"y":1.51},{"x":3900,"y":1.49},{"x":5000,"y":1.49},{"x":4700,"y":1.45},{"x":6200,"y":1.44},{"x":13200,"y":1.43},{"x":18600,"y":1.345},{"x":4600,"y":1.3},{"x":5400,"y":1.31},{"x":7300,"y":1.29},{"x":11700,"y":1.26},{"x":18600,"y":1.19},{"x":6800,"y":1.23},{"x":7000,"y":1.11},{"x":10300,"y":1.12},{"x":37000,"y":1.14},{"x":44000,"y":1.1},{"x":30000,"y":1.07},{"x":18600,"y":1.07},{"x":51000,"y":0.96},{"x":3400,"y":0.94},{"x":4300,"y":1.02},{"x":5000,"y":0.97},{"x":33000,"y":0.915},{"x":41000,"y":0.86},{"x":47000,"y":0.845},{"x":55000,"y":0.82},{"x":7800,"y":0.84},{"x":106000,"y":0.82},{"x":90000,"y":0.75},{"x":2400,"y":0.47},{"x":3200,"y":0.52},{"x":3400,"y":0.66},{"x":3800,"y":0.36},{"x":4000,"y":0.6},{"x":4200,"y":0.8},{"x":4400,"y":0.55},{"x":4600,"y":0.38},{"x":4800,"y":0.72},{"x":5000,"y":0.5},{"x":5200,"y":0.43},{"x":5600,"y":0.77},{"x":6000,"y":0.53},{"x":6500,"y":0.55},{"x":7000,"y":0.4},{"x":7200,"y":0.95},{"x":7500,"y":0.7},{"x":8000,"y":0.38},{"x":8500,"y":0.32},{"x":9000,"y":0.62},{"x":9500,"y":0.7},{"x":10000,"y":0.55},{"x":10500,"y":0.34},{"x":11000,"y":0.9},{"x":12000,"y":0.65},{"x":13000,"y":0.78},{"x":14000,"y":0.6},{"x":16000,"y":0.43},{"x":17000,"y":0.73},{"x":20000,"y":0.33},{"x":20500,"y":0.53},{"x":22000,"y":0.48},{"x":24000,"y":0.62},{"x":26000,"y":0.58},{"x":29000,"y":0.5},{"x":31000,"y":0.4},{"x":35000,"y":0.26},{"x":37000,"y":0.5},{"x":40000,"y":0.45},{"x":45000,"y":0.55},{"x":48000,"y":0.35},{"x":52000,"y":0.3},{"x":56000,"y":0.21},{"x":58000,"y":0.58},{"x":68000,"y":0.5},{"x":74000,"y":0.35},{"x":92000,"y":0.6},{"x":97000,"y":0.52},{"x":100000,"y":0.37},{"x":260000,"y":0.955},{"x":880000,"y":0.805},{"x":1030000,"y":0.805},{"x":165000,"y":0.69},{"x":230000,"y":0.725},{"x":420000,"y":0.67},{"x":2900000,"y":0.56},{"x":3700000,"y":0.46},{"x":5000000,"y":0.4},{"x":2000000,"y":0.44},{"x":2300000,"y":0.415},{"x":17500000,"y":0.26},{"x":31000000,"y":0.08},{"x":880000,"y":0.55},{"x":380000,"y":0.59},{"x":380000,"y":0.535},{"x":620000,"y":0.5},{"x":780000,"y":0.49},{"x":490000,"y":0.49},{"x":140000,"y":0.4},{"x":100000,"y":0.22},{"x":108000,"y":0.22},{"x":16500000,"y":0.1},{"x":18000000,"y":0.06},{"x":20000000,"y":0.04},{"x":13000000,"y":0.06}]},"mark":{"type":"circle","size":27,"opacity":1,"color":"#00008f"}},{"data":{"values":[{"x":120000,"y":0.3,"d":0.02},{"x":160000,"y":0.3,"d":0.02},{"x":200000,"y":0.4,"d":0.02},{"x":250000,"y":0.42,"d":0.02},{"x":320000,"y":0.38,"d":0.02},{"x":400000,"y":0.38,"d":0.02},{"x":500000,"y":0.36,"d":0.02},{"x":630000,"y":0.36,"d":0.02},{"x":800000,"y":0.34,"d":0.02},{"x":1000000,"y":0.33,"d":0.02},{"x":1300000,"y":0.32,"d":0.02},{"x":1600000,"y":0.31,"d":0.02},{"x":2000000,"y":0.3,"d":0.02},{"x":2500000,"y":0.26,"d":0.02},{"x":3200000,"y":0.22,"d":0.02},{"x":4000000,"y":0.19,"d":0.02},{"x":5000000,"y":0.17,"d":0.02},{"x":6300000,"y":0.15,"d":0.02},{"x":8000000,"y":0.13,"d":0.02},{"x":10000000,"y":0.11,"d":0.02},{"x":13000000,"y":0.08,"d":0.02},{"x":120000,"y":0.24,"d":0.03},{"x":160000,"y":0.22,"d":0.03},{"x":200000,"y":0.3,"d":0.03},{"x":250000,"y":0.3,"d":0.03},{"x":320000,"y":0.3,"d":0.03},{"x":400000,"y":0.3,"d":0.03},{"x":500000,"y":0.3,"d":0.03},{"x":630000,"y":0.3,"d":0.03},{"x":800000,"y":0.28,"d":0.03},{"x":1000000,"y":0.27,"d":0.03},{"x":1300000,"y":0.26,"d":0.03},{"x":1600000,"y":0.24,"d":0.03},{"x":2000000,"y":0.22,"d":0.03},{"x":2500000,"y":0.2,"d":0.03},{"x":3200000,"y":0.16,"d":0.03},{"x":4000000,"y":0.14,"d":0.03},{"x":5000000,"y":0.12,"d":0.03},{"x":6300000,"y":0.1,"d":0.03},{"x":8000000,"y":0.09,"d":0.03},{"x":10000000,"y":0.07,"d":0.03},{"x":13000000,"y":0.05,"d":0.03},{"x":200000,"y":0.18,"d":0.03},{"x":250000,"y":0.15,"d":0.03},{"x":320000,"y":0.11,"d":0.03},{"x":400000,"y":0.08,"d":0.03},{"x":500000,"y":0.06,"d":0.03},{"x":630000,"y":0.05,"d":0.03},{"x":800000,"y":0.03,"d":0.03},{"x":1000000,"y":0.03,"d":0.03},{"x":1300000,"y":0.02,"d":0.03},{"x":1600000,"y":0.02,"d":0.03},{"x":2000000,"y":0.02,"d":0.03},{"x":2500000,"y":0.02,"d":0.03},{"x":3200000,"y":0.01,"d":0.03},{"x":4000000,"y":0.01,"d":0.03},{"x":5000000,"y":0.01,"d":0.03},{"x":6300000,"y":0.01,"d":0.03},{"x":8000000,"y":0.02,"d":0.03},{"x":10000000,"y":0.03,"d":0.03},{"x":13000000,"y":0.04,"d":0.03},{"x":200000,"y":0.25,"d":0.15},{"x":250000,"y":0.22,"d":0.15},{"x":320000,"y":0.2,"d":0.15},{"x":400000,"y":0.16,"d":0.15},{"x":500000,"y":0.12,"d":0.15},{"x":630000,"y":0.09,"d":0.15},{"x":800000,"y":0.06,"d":0.15},{"x":1000000,"y":0.06,"d":0.15},{"x":1300000,"y":0.05,"d":0.15},{"x":1600000,"y":0.05,"d":0.15},{"x":2000000,"y":0.06,"d":0.15},{"x":2500000,"y":0.08,"d":0.15},{"x":3200000,"y":0.08,"d":0.15},{"x":4000000,"y":0.05,"d":0.15},{"x":320000,"y":0.25,"d":0.15},{"x":400000,"y":0.25,"d":0.15},{"x":500000,"y":0.25,"d":0.15},{"x":630000,"y":0.25,"d":0.15},{"x":800000,"y":0.23,"d":0.15},{"x":1000000,"y":0.22,"d":0.15},{"x":1300000,"y":0.21,"d":0.15},{"x":1600000,"y":0.19,"d":0.15},{"x":2000000,"y":0.15,"d":0.15},{"x":2500000,"y":0.13,"d":0.15},{"x":320000,"y":0.15,"d":0.37},{"x":400000,"y":0.2,"d":0.37},{"x":500000,"y":0.2,"d":0.37},{"x":630000,"y":0.21,"d":0.37},{"x":800000,"y":0.2,"d":0.37},{"x":1000000,"y":0.19,"d":0.37},{"x":1300000,"y":0.18,"d":0.37},{"x":1600000,"y":0.15,"d":0.37},{"x":2000000,"y":0.12,"d":0.37},{"x":2000000,"y":0.09,"d":0.37},{"x":1600000,"y":0.07,"d":0.37},{"x":1300000,"y":0.07,"d":0.37},{"x":400000,"y":0.13,"d":0.37},{"x":500000,"y":0.09,"d":0.37},{"x":630000,"y":0.07,"d":0.37},{"x":450000,"y":0.15,"d":0.5},{"x":550000,"y":0.16,"d":0.5},{"x":650000,"y":0.17,"d":0.5},{"x":800000,"y":0.17,"d":0.5},{"x":1000000,"y":0.17,"d":0.5},{"x":1200000,"y":0.16,"d":0.5},{"x":1500000,"y":0.13,"d":0.5},{"x":1500000,"y":0.09,"d":0.5},{"x":1200000,"y":0.07,"d":0.5},{"x":600000,"y":0.09,"d":0.5},{"x":800000,"y":0.07,"d":0.5},{"x":550000,"y":0.12,"d":0.65},{"x":650000,"y":0.14,"d":0.65},{"x":800000,"y":0.15,"d":0.65},{"x":1000000,"y":0.15,"d":0.65},{"x":1200000,"y":0.14,"d":0.65},{"x":1400000,"y":0.11,"d":0.65},{"x":650000,"y":0.09,"d":0.65},{"x":900000,"y":0.08,"d":0.65},{"x":650000,"y":0.12,"d":0.82},{"x":750000,"y":0.11,"d":0.82},{"x":850000,"y":0.1,"d":0.82},{"x":1000000,"y":0.12,"d":0.82},{"x":1200000,"y":0.11,"d":0.82},{"x":1400000,"y":0.09,"d":0.82},{"x":1300000,"y":0.07,"d":0.82},{"x":720000,"y":0.13,"d":0.92},{"x":900000,"y":0.11,"d":0.92},{"x":1050000,"y":0.1,"d":0.92},{"x":1200000,"y":0.08,"d":0.92},{"x":900000,"y":0.125,"d":1},{"x":1050000,"y":0.12,"d":1}]},"mark":{"type":"circle","size":27,"opacity":1},"encoding":{"color":{"field":"d","type":"quantitative","scale":{"domain":[0,0.11,0.35,0.65,0.89,1],"range":["#00007f","#0000ff","#00ffff","#ffff00","#ff0000","#7f0000"]}}}},{"data":{"values":[{"x":100000,"y":2.734,"y2":-0.096}]},"mark":{"type":"rule","color":"black","strokeWidth":2,"strokeDash":[6,3]},"encoding":{"y2":{"field":"y2"}}},{"data":{"values":[{"x":106,"y":2.533,"t":"R","s":16},{"x":141,"y":2.705,"t":"max","s":9.5}]},"mark":{"type":"text","angle":270,"fontStyle":"italic","align":"left","baseline":"middle"},"encoding":{"text":{"field":"t"},"size":{"field":"s","type":"quantitative","scale":null}}},{"data":{"values":[{"x":106,"y":3.02,"t":")","s":16}]},"mark":{"type":"text","angle":270,"align":"left","baseline":"middle"},"encoding":{"text":{"field":"t"},"size":{"field":"s","type":"quantitative","scale":null}}},{"data":{"values":[{"x":1175,"y":2.776,"t":"10⁻²"}]},"mark":{"type":"text","align":"left","baseline":"alphabetic","dx":-2,"dy":-7,"fontSize":15},"encoding":{"text":{"field":"t"}}}]}]},{"bounds":"flush","spacing":0,"hconcat":[{"width":75,"height":201,"view":{"stroke":null},"encoding":{"x":{"field":"x","type":"quantitative","axis":null,"scale":{"domain":[0,75],"nice":false,"zero":false}},"y":{"field":"y","type":"quantitative","axis":null,"scale":{"domain":[804,1005],"nice":false,"zero":false,"reverse":true}}},"layer":[{"data":{"values":[{"x":0,"x2":75,"y":760,"y2":1050}]},"mark":{"type":"rect","opacity":0},"encoding":{"x2":{"field":"x2"},"y2":{"field":"y2"}}},{"data":{"values":[{"x":10,"y":787,"t":"(f)"},{"x":320,"y":787,"t":"(g)"},{"x":635,"y":787,"t":"(h)"}]},"mark":{"type":"text","align":"left","baseline":"alphabetic","fontSize":19.5},"encoding":{"text":{"field":"t"}}}]},{"width":230,"height":201,"data":{"name":"bins"},"encoding":{"x":{"field":"x","type":"quantitative","title":"Amino acids in proteome (#)","scale":{"type":"log","domain":[1189,53700000],"nice":false},"axis":{"tickCount":50,"labelExpr":"datum.value==10000?'10⁴':datum.value==100000?'10⁵':datum.value==1000000?'10⁶':datum.value==10000000?'10⁷':''","tickSize":{"condition":{"test":"datum.value==10000||datum.value==100000||datum.value==1000000||datum.value==10000000","value":5},"value":2.5},"titleY":40,"titleBaseline":"alphabetic"}},"y":{"field":"v","type":"quantitative","title":"Maximal variance (","scale":{"domain":[-0.049,1.007],"nice":false,"zero":false},"axis":{"values":[0,0.2,0.4,0.6,0.8,1],"format":".1f","titleX":-47,"titleY":198,"titleAlign":"left","titleAnchor":null,"titleBaseline":"middle"}}},"layer":[{"mark":{"type":"circle","size":49,"opacity":1,"color":"#2a9d3f"}},{"data":{"values":[{"x":100000,"v":0.987,"y2":-0.049}]},"mark":{"type":"rule","color":"black","strokeWidth":2,"strokeDash":[6,3]},"encoding":{"y2":{"field":"y2"}}},{"data":{"values":[{"x":133,"v":0.804,"t":"σ","s":16},{"x":168,"v":0.846,"t":"max","s":9.5}]},"mark":{"type":"text","angle":270,"fontStyle":"italic","align":"left","baseline":"middle"},"encoding":{"text":{"field":"t"},"size":{"field":"s","type":"quantitative","scale":null}}},{"data":{"values":[{"x":105,"v":0.937,"t":"2","s":10},{"x":133,"v":0.982,"t":")","s":16}]},"mark":{"type":"text","angle":270,"align":"left","baseline":"middle"},"encoding":{"text":{"field":"t"},"size":{"field":"s","type":"quantitative","scale":null}}},{"data":{"values":[{"x":1189,"v":1.007,"t":"10⁻⁴"}]},"mark":{"type":"text","align":"left","baseline":"alphabetic","dx":-2,"dy":-7,"fontSize":15},"encoding":{"text":{"field":"t"}}}]},{"width":90,"height":201,"view":{"stroke":null},"data":{"values":[{"a":0}]},"mark":{"type":"rule","opacity":0},"encoding":{}},{"width":230,"height":201,"data":{"name":"bins"},"encoding":{"x":{"field":"x","type":"quantitative","title":"Amino acids in proteome (#)","scale":{"type":"log","domain":[1211,52500000],"nice":false},"axis":{"tickCount":50,"labelExpr":"datum.value==10000?'10⁴':datum.value==100000?'10⁵':datum.value==1000000?'10⁶':datum.value==10000000?'10⁷':''","tickSize":{"condition":{"test":"datum.value==10000||datum.value==100000||datum.value==1000000||datum.value==10000000","value":5},"value":2.5},"titleY":40,"titleBaseline":"alphabetic"}},"y":{"field":"s","type":"quantitative","title":"Maximal absolute slope (","scale":{"domain":[-0.25,5.32],"nice":false,"zero":false},"axis":{"values":[0,1,2,3,4,5],"format":"d","titleX":-34,"titleY":230,"titleAlign":"left","titleAnchor":null,"titleBaseline":"middle"}}},"layer":[{"mark":{"type":"circle","size":49,"opacity":1,"color":"#2a9d3f"}},{"data":{"values":[{"x":100000,"s":5.22,"y2":-0.25}]},"mark":{"type":"rule","color":"black","strokeWidth":2,"strokeDash":[6,3]},"encoding":{"y2":{"field":"y2"}}},{"data":{"values":[{"x":245,"s":4.47,"t":"r","z":16},{"x":324,"s":4.667,"t":"abs, max","z":9.5}]},"mark":{"type":"text","angle":270,"fontStyle":"italic","align":"left","baseline":"middle"},"encoding":{"text":{"field":"t"},"size":{"field":"z","type":"quantitative","scale":null}}},{"data":{"values":[{"x":245,"s":5.83,"t":")"}]},"mark":{"type":"text","angle":270,"align":"left","baseline":"middle","fontSize":16},"encoding":{"text":{"field":"t"}}},{"data":{"values":[{"x":1211,"s":5.32,"t":"10⁻⁵"}]},"mark":{"type":"text","align":"left","baseline":"alphabetic","dx":-2,"dy":-7,"fontSize":15},"encoding":{"text":{"field":"t"}}}]},{"width":99,"height":201,"view":{"stroke":null},"data":{"values":[{"a":0}]},"mark":{"type":"rule","opacity":0},"encoding":{}},{"width":229,"height":201,"data":{"name":"bins"},"encoding":{"x":{"field":"x","type":"quantitative","title":"Amino acids in proteome (#)","scale":{"type":"log","domain":[1175,52500000],"nice":false},"axis":{"tickCount":50,"labelExpr":"datum.value==10000?'10⁴':datum.value==100000?'10⁵':datum.value==1000000?'10⁶':datum.value==10000000?'10⁷':''","tickSize":{"condition":{"test":"datum.value==10000||datum.value==100000||datum.value==1000000||datum.value==10000000","value":5},"value":2.5},"titleY":40,"titleBaseline":"alphabetic"}},"y":{"field":"r","type":"quantitative","title":"Maximal variation range (","scale":{"domain":[-0.113,2.725],"nice":false,"zero":false},"axis":{"values":[0,0.5,1,1.5,2,2.5],"format":".1f","titleX":-51,"titleY":224,"titleAlign":"left","titleAnchor":null,"titleBaseline":"middle"}}},"layer":[{"mark":{"type":"circle","size":49,"opacity":1,"color":"#2a9d3f"}},{"data":{"values":[{"x":100000,"r":2.673,"y2":-0.113}]},"mark":{"type":"rule","color":"black","strokeWidth":2,"strokeDash":[6,3]},"encoding":{"y2":{"field":"y2"}}},{"data":{"values":[{"x":106,"r":2.48,"t":"R","s":16},{"x":141,"r":2.645,"t":"max","s":9.5}]},"mark":{"type":"text","angle":270,"fontStyle":"italic","align":"left","baseline":"middle"},"encoding":{"text":{"field":"t"},"size":{"field":"s","type":"quantitative","scale":null}}},{"data":{"values":[{"x":106,"r":2.954,"t":")","s":16}]},"mark":{"type":"text","angle":270,"align":"left","baseline":"middle"},"encoding":{"text":{"field":"t"},"size":{"field":"s","type":"quantitative","scale":null}}},{"data":{"values":[{"x":1175,"r":2.725,"t":"10⁻²"}]},"mark":{"type":"text","align":"left","baseline":"alphabetic","dx":-2,"dy":-7,"fontSize":15},"encoding":{"text":{"field":"t"}}}]}]},{"bounds":"flush","spacing":0,"hconcat":[{"width":75,"height":201,"view":{"stroke":null},"encoding":{"x":{"field":"x","type":"quantitative","axis":null,"scale":{"domain":[0,75],"nice":false,"zero":false}},"y":{"field":"y","type":"quantitative","axis":null,"scale":{"domain":[1083,1284],"nice":false,"zero":false,"reverse":true}}},"layer":[{"data":{"values":[{"x":0,"x2":75,"y":1050,"y2":1329}]},"mark":{"type":"rect","opacity":0},"encoding":{"x2":{"field":"x2"},"y2":{"field":"y2"}}},{"data":{"values":[{"x":10,"y":1077,"t":"(i)"},{"x":320,"y":1077,"t":"(j)"},{"x":672,"y":1077,"t":"(k)"}]},"mark":{"type":"text","align":"left","baseline":"alphabetic","fontSize":19.5},"encoding":{"text":{"field":"t"}}}]},{"width":228,"height":201,"encoding":{"x":{"field":"x","type":"quantitative","title":"Proteins in proteome (#)","scale":{"type":"log","domain":[173,123000],"nice":false},"axis":{"tickCount":50,"labelExpr":"datum.value==1000?'10³':datum.value==10000?'10⁴':datum.value==100000?'10⁵':''","tickSize":{"condition":{"test":"datum.value==1000||datum.value==10000||datum.value==100000","value":5},"value":2.5},"titleY":42,"titleBaseline":"alphabetic"}},"y":{"field":"y","type":"quantitative","title":"Counts","scale":{"domain":[-0.005,3.13],"nice":false,"zero":false},"axis":{"values":[0,1,2,3],"format":"d","titleX":-45,"titleY":100,"titleBaseline":"middle"}}},"layer":[{"data":{"values":[{"x":316,"y":0.01},{"x":447,"y":0.02},{"x":562,"y":0.04},{"x":603,"y":0.16},{"x":631,"y":0.1},{"x":661,"y":0.16},{"x":692,"y":0.08},{"x":759,"y":0.04},{"x":794,"y":0.07},{"x":851,"y":0.08},{"x":933,"y":0.13},{"x":1000,"y":0.1},{"x":1072,"y":0.05},{"x":1148,"y":0.12},{"x":1202,"y":0.17},{"x":1259,"y":0.3},{"x":1318,"y":0.35},{"x":1380,"y":0.45},{"x":1445,"y":0.62},{"x":1514,"y":0.8},{"x":1585,"y":0.95},{"x":1698,"y":1.05},{"x":1837,"y":1.45},{"x":1995,"y":1.75},{"x":2188,"y":1.85},{"x":2317,"y":2.02},{"x":2455,"y":1.9},{"x":2606,"y":2.05},{"x":2818,"y":2.25},{"x":3090,"y":2.65},{"x":3311,"y":2.6},{"x":3548,"y":2.75},{"x":3802,"y":3},{"x":3981,"y":2.95},{"x":4266,"y":2.45},{"x":4571,"y":2.2},{"x":4842,"y":1.75},{"x":5129,"y":1.5},{"x":5445,"y":1.48},{"x":5754,"y":1.2},{"x":6124,"y":1.05},{"x":6607,"y":0.92},{"x":7079,"y":0.8},{"x":7586,"y":0.78},{"x":8128,"y":0.65},{"x":8710,"y":0.57},{"x":9333,"y":0.38},{"x":10000,"y":0.33},{"x":10593,"y":0.28},{"x":11350,"y":0.32},{"x":12303,"y":0.3},{"x":13397,"y":0.2},{"x":14125,"y":0.1},{"x":15849,"y":0.06},{"x":17783,"y":0.04},{"x":19953,"y":0.02},{"x":25119,"y":0.03},{"x":28840,"y":0.005},{"x":39811,"y":0}]},"mark":{"type":"area","interpolate":"step-after","color":"#2fa345"}},{"data":{"values":[{"x":173,"y":3.13,"t":"10²"}]},"mark":{"type":"text","align":"left","baseline":"alphabetic","dx":-2,"dy":-6,"fontSize":15},"encoding":{"text":{"field":"t"}}}]},{"width":93,"height":201,"view":{"stroke":null},"data":{"values":[{"a":0}]},"mark":{"type":"rule","opacity":0},"encoding":{}},{"width":229,"height":201,"encoding":{"x":{"field":"x","type":"quantitative","title":"Experimental growth temperature (°C)","scale":{"domain":[-1,106.8],"nice":false,"zero":false},"axis":{"values":[0,25,50,75,100],"format":"d","titleY":42,"titleBaseline":"alphabetic"}},"y":{"field":"y","type":"quantitative","title":"Counts","scale":{"domain":[-0.002,1.36],"nice":false,"zero":false},"axis":{"values":[0,0.25,0.5,0.75,1,1.25],"format":".2f","titleX":-56,"titleY":100,"titleBaseline":"middle"}}},"layer":[{"data":{"values":[{"x":10,"y":0.003},{"x":15,"y":0.02},{"x":18,"y":0.005},{"x":20,"y":0.085},{"x":21,"y":0.01},{"x":22,"y":0.045},{"x":23,"y":0.05},{"x":24,"y":0.14},{"x":25,"y":0.255},{"x":26,"y":0.15},{"x":27,"y":0.28},{"x":28,"y":0.81},{"x":29,"y":0.45},{"x":30,"y":0.795},{"x":31,"y":0.11},{"x":32,"y":0.1},{"x":33,"y":0.06},{"x":34,"y":0.095},{"x":35,"y":0.13},{"x":36,"y":0.11},{"x":37,"y":1.3},{"x":38,"y":0.01},{"x":39,"y":0.01},{"x":40,"y":0.01},{"x":42,"y":0.01},{"x":45,"y":0.025},{"x":47,"y":0.01},{"x":50,"y":0.04},{"x":52,"y":0.005},{"x":55,"y":0.055},{"x":57,"y":0.005},{"x":60,"y":0.04},{"x":62,"y":0.005},{"x":65,"y":0.03},{"x":70,"y":0.025},{"x":75,"y":0.005},{"x":80,"y":0.015},{"x":85,"y":0.012},{"x":90,"y":0.005}]},"mark":{"type":"bar","size":2.1,"color":"#2fa345"}},{"data":{"values":[{"x":-1,"y":1.36,"t":"10³"}]},"mark":{"type":"text","align":"left","baseline":"alphabetic","dx":-2,"dy":-6,"fontSize":15},"encoding":{"text":{"field":"t"}}}]},{"width":67,"height":201,"view":{"stroke":null},"data":{"values":[{"a":0}]},"mark":{"type":"rule","opacity":0},"encoding":{}},{"width":212,"height":197,"view":{"stroke":null},"layer":[{"data":{"values":[{"k":"Archaea","v":3.9,"o":1},{"k":"Eukarya","v":8.5,"o":2},{"k":"Bacteria","v":87.6,"o":3}]},"mark":{"type":"arc","outerRadius":106,"stroke":"black","strokeWidth":1.3},"encoding":{"theta":{"field":"v","type":"quantitative","stack":true,"scale":{"range":[2.105,8.388]}},"order":{"field":"o","type":"quantitative"},"color":{"field":"k","type":"nominal","scale":{"domain":["Archaea","Eukarya","Bacteria"],"range":["#b3ffb3","#52cc52","#2ca03f"]}}}},{"data":{"values":[{"x":798,"y":1128,"t":"Bacteria"},{"x":798,"y":1143,"t":"88%"},{"x":869,"y":1237,"t":"4%"},{"x":840,"y":1255,"t":"8%"},{"x":925,"y":1256,"t":"Archaea"},{"x":891,"y":1287,"t":"Eukarya"}]},"mark":{"type":"text","align":"center","baseline":"middle","fontSize":15.5},"encoding":{"x":{"field":"x","type":"quantitative","axis":null,"scale":{"domain":[692,904],"nice":false,"zero":false}},"y":{"field":"y","type":"quantitative","axis":null,"scale":{"domain":[1083,1280],"nice":false,"zero":false,"reverse":true}},"text":{"field":"t"}}}]}]}]}
